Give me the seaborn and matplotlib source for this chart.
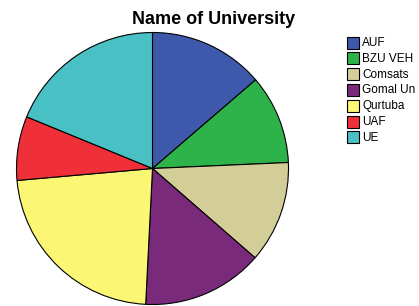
import matplotlib
matplotlib.use("Agg")
import matplotlib.pyplot as plt
import seaborn as sns
from matplotlib.patches import Rectangle

# Share of respondents per university (percent)
universities = ["AUF", "BZU VEH", "Comsats", "Gomal Un", "Qurtuba", "UAF", "UE"]
shares = [13.7, 10.6, 12.1, 14.4, 22.8, 7.6, 18.8]
colors = ["#3E58AC", "#2DB34A", "#D3CE97", "#7A2A7B", "#FBF774", "#EF3038", "#48C0C4"]

sns.set_theme(style="white")
plt.rcParams["font.family"] = ["Liberation Sans", "DejaVu Sans"]

W, H = 419, 306
fig = plt.figure(figsize=(W / 100, H / 100), dpi=100)
fig.patch.set_facecolor("white")

cx, cy, r = 152.5, 168.5, 136
ax = fig.add_axes([(cx - r) / W, (H - cy - r) / H, 2 * r / W, 2 * r / H])
ax.pie(shares, colors=colors, startangle=90, counterclock=False,
       wedgeprops={"edgecolor": "black", "linewidth": 0.8})
ax.set_xlim(-1.0, 1.0)
ax.set_ylim(-1.0, 1.0)
ax.axis("off")

fig.text(214 / W, 1 - 20 / H, "Name of University", ha="center", va="center",
         fontsize=13, fontweight="bold", color="black")

# legend: swatch + label, one row per university
row_h = 15.8
for i, (name, c) in enumerate(zip(universities, colors)):
    top = 36.5 + row_h * i
    fig.add_artist(Rectangle((347 / W, 1 - (top + 12) / H), 12 / W, 12 / H,
                             facecolor=c, edgecolor="black", linewidth=0.8,
                             transform=fig.transFigure))
    fig.text(362 / W, 1 - (top + 6.5) / H, name, ha="left", va="center",
             fontsize=8.5, color="black")

fig.savefig("out.png", dpi=100)
